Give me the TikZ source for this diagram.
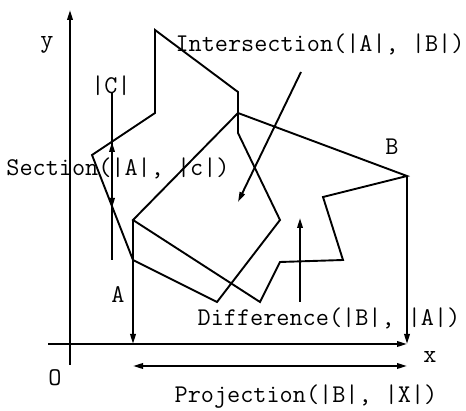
\documentclass[tikz,border=0pt]{standalone}
\usetikzlibrary{positioning,arrows.meta}

\begin{document}
\begin{tikzpicture}[
        x=1pt, y=-1pt,
        line width=1.9pt,
        lbl/.style={font=\ttfamily\fontsize{25.5}{28}\selectfont, inner sep=0pt},
        arrow/.style={-{Triangle[length=10pt,width=5.5pt]}},
        dblarrow/.style={{Triangle[length=10pt,width=5.5pt]}-{Triangle[length=10pt,width=5.5pt]}}
    ]
    \useasboundingbox (0,0) rectangle (466,411);

    % Axes
    \coordinate (xstart) at (48,344);
    \coordinate (xend) at (407,344);
    \coordinate (ystart) at (70,365);
    \coordinate (yend) at (70,10);
    \draw[arrow] (xstart) -- (xend);
    \draw[arrow] (ystart) -- (yend);

    % Polygon A
    \coordinate (a1) at (155,30);
    \coordinate (a2) at (238,92);
    \coordinate (a3) at (238,133);
    \coordinate (a4) at (280,220);
    \coordinate (a5) at (217,302);
    \coordinate (a6) at (133,260);
    \coordinate (a7) at (92,155);
    \coordinate (a8) at (155,113);
    \draw[line join=miter] (a1) -- (a2) -- (a3) -- (a4) -- (a5) -- (a6) -- (a7) -- (a8) -- cycle;

    % Polygon B
    \coordinate (b1) at (133,220);
    \coordinate (b2) at (238,113);
    \coordinate (b3) at (407,176);
    \coordinate (b4) at (323,197);
    \coordinate (b5) at (343,260);
    \coordinate (b6) at (280,262);
    \coordinate (b7) at (260,302);
    \draw[line join=miter] (b1) -- (b2) -- (b3) -- (b4) -- (b5) -- (b6) -- (b7) -- cycle;

    % Nodes
    \node[lbl] (ylbl) at (47,45) {y};
    \node[lbl] (xlbl) at (430,357) {x};
    \node[lbl] (olbl) at (55,378) {O};
    \node[lbl] (clbl) at (111,86) {|C|};
    \node[lbl] (alb) at (118,295) {A};
    \node[lbl] (blb) at (392,147) {B};
    \node[lbl] (inter) at (320,44) {Intersection(|A|, |B|)};
    \node[lbl] (sect) at (118,168) {Section(|A|, |c|)};
    \node[lbl] (diff) at (329,318) {Difference(|B|, |A|)};
    \node[lbl] (proj) at (306,397) {Projection(|B|, |X|)};

    % Arrows
    \coordinate (ctop) at (112,93);
    \coordinate (cbot) at (112,260);
    \coordinate (cup) at (112,142);
    \coordinate (cdown) at (112,208);
    \draw[arrow] (cbot) -- (cup);
    \draw[arrow] (ctop) -- (cdown);

    \coordinate (itail) at (301,72);
    \coordinate (itip) at (238,202);
    \draw[arrow] (itail) -- (itip);

    \coordinate (dtail) at (300,302);
    \coordinate (dtip) at (300,218);
    \draw[arrow] (dtail) -- (dtip);

    \draw[arrow] (b1) -- (b1 |- xend);
    \draw[arrow] (b3) -- (b3 |- xend);

    \coordinate (pleft) at (133,366);
    \coordinate (pright) at (407,366);
    \draw[dblarrow] (pleft) -- (pright);

\end{tikzpicture}
\end{document}
